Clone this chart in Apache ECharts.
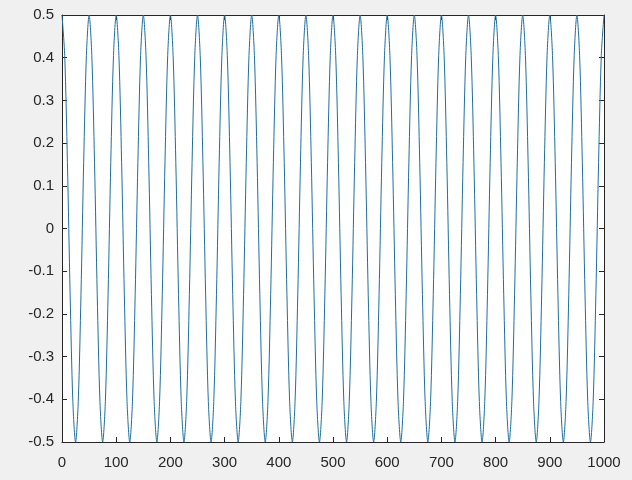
<!DOCTYPE html>
<html>
<head>
<meta charset="utf-8">
<script src="https://cdn.jsdelivr.net/npm/echarts@6/dist/echarts.min.js"></script>
<style>
html,body{margin:0;padding:0;background:#f0f0f0;}
#c{width:632px;height:480px;}
</style>
</head>
<body>
<div id="c"></div>
<script>
// x positions (step 5) and y values (period 50, amplitude 0.5)
const xValues = [];
for (let i = 0; i <= 200; i++) xValues.push(i * 5);
const yValues = [
0.5,0.405,0.155,-0.155,-0.405,-0.5,-0.405,-0.155,0.155,0.405,
0.5,0.405,0.155,-0.155,-0.405,-0.5,-0.405,-0.155,0.155,0.405,
0.5,0.405,0.155,-0.155,-0.405,-0.5,-0.405,-0.155,0.155,0.405,
0.5,0.405,0.155,-0.155,-0.405,-0.5,-0.405,-0.155,0.155,0.405,
0.5,0.405,0.155,-0.155,-0.405,-0.5,-0.405,-0.155,0.155,0.405,
0.5,0.405,0.155,-0.155,-0.405,-0.5,-0.405,-0.155,0.155,0.405,
0.5,0.405,0.155,-0.155,-0.405,-0.5,-0.405,-0.155,0.155,0.405,
0.5,0.405,0.155,-0.155,-0.405,-0.5,-0.405,-0.155,0.155,0.405,
0.5,0.405,0.155,-0.155,-0.405,-0.5,-0.405,-0.155,0.155,0.405,
0.5,0.405,0.155,-0.155,-0.405,-0.5,-0.405,-0.155,0.155,0.405,
0.5,0.405,0.155,-0.155,-0.405,-0.5,-0.405,-0.155,0.155,0.405,
0.5,0.405,0.155,-0.155,-0.405,-0.5,-0.405,-0.155,0.155,0.405,
0.5,0.405,0.155,-0.155,-0.405,-0.5,-0.405,-0.155,0.155,0.405,
0.5,0.405,0.155,-0.155,-0.405,-0.5,-0.405,-0.155,0.155,0.405,
0.5,0.405,0.155,-0.155,-0.405,-0.5,-0.405,-0.155,0.155,0.405,
0.5,0.405,0.155,-0.155,-0.405,-0.5,-0.405,-0.155,0.155,0.405,
0.5,0.405,0.155,-0.155,-0.405,-0.5,-0.405,-0.155,0.155,0.405,
0.5,0.405,0.155,-0.155,-0.405,-0.5,-0.405,-0.155,0.155,0.405,
0.5,0.405,0.155,-0.155,-0.405,-0.5,-0.405,-0.155,0.155,0.405,
0.5,0.405,0.155,-0.155,-0.405,-0.5,-0.405,-0.155,0.155,0.405,
0.5
];
const xTicks = ['0','100','200','300','400','500','600','700','800','900','1000'];
const yTicks = ['-0.5','-0.4','-0.3','-0.2','-0.1','0','0.1','0.2','0.3','0.4','0.5'];

const data = xValues.map((x, i) => [x, yValues[i]]);
const axisColor = '#262626';
const font = { fontFamily: 'Liberation Sans, Arial, sans-serif', fontSize: 15, color: '#262626' };

const chart = echarts.init(document.getElementById('c'), null, { renderer: 'canvas' });
chart.setOption({
  backgroundColor: '#f0f0f0',
  animation: false,
  grid: { left: 62, right: 28, top: 15, bottom: 38, show: true, backgroundColor: '#ffffff', borderWidth: 0 },
  xAxis: [{
    type: 'value', min: 0, max: 1000, interval: 100, position: 'bottom',
    axisLine: { show: true, onZero: false, lineStyle: { color: axisColor, width: 1 } },
    axisTick: { show: true, inside: true, length: 5, lineStyle: { color: axisColor } },
    axisLabel: Object.assign({ margin: 13, formatter: v => xTicks[Math.round(v / 100)] }, font),
    splitLine: { show: false }
  }, {
    type: 'value', min: 0, max: 1000, interval: 100, position: 'top',
    axisLine: { show: true, onZero: false, lineStyle: { color: axisColor, width: 1 } },
    axisTick: { show: true, inside: true, length: 5, lineStyle: { color: axisColor } },
    axisLabel: { show: false }, splitLine: { show: false }
  }],
  yAxis: [{
    type: 'value', min: -0.5, max: 0.5, interval: 0.1, position: 'left',
    axisLine: { show: true, onZero: false, lineStyle: { color: axisColor, width: 1 } },
    axisTick: { show: true, inside: true, length: 5, lineStyle: { color: axisColor } },
    axisLabel: Object.assign({ margin: 8, formatter: v => yTicks[Math.round((v + 0.5) * 10)] }, font),
    splitLine: { show: false }
  }, {
    type: 'value', min: -0.5, max: 0.5, interval: 0.1, position: 'right',
    axisLine: { show: true, onZero: false, lineStyle: { color: axisColor, width: 1 } },
    axisTick: { show: true, inside: true, length: 5, lineStyle: { color: axisColor } },
    axisLabel: { show: false }, splitLine: { show: false }
  }],
  series: [{
    type: 'line', xAxisIndex: 0, yAxisIndex: 0, data: data,
    showSymbol: false, smooth: 0.3,
    lineStyle: { color: '#1f6f99', width: 1 }
  }]
});
</script>
</body>
</html>
